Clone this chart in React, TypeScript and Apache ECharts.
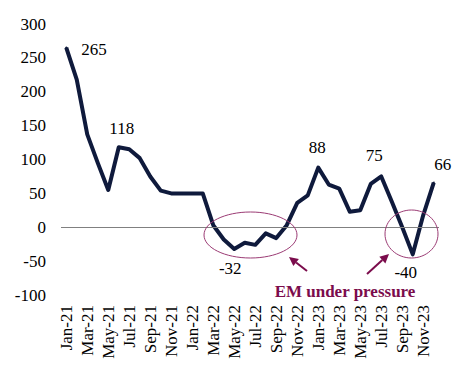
import React, { useEffect, useRef } from "react";
import * as echarts from "echarts";

const categories = [
  "Jan-21","Feb-21","Mar-21","Apr-21","May-21","Jun-21","Jul-21","Aug-21","Sep-21","Oct-21","Nov-21","Dec-21",
  "Jan-22","Feb-22","Mar-22","Apr-22","May-22","Jun-22","Jul-22","Aug-22","Sep-22","Oct-22","Nov-22","Dec-22",
  "Jan-23","Feb-23","Mar-23","Apr-23","May-23","Jun-23","Jul-23","Aug-23","Sep-23","Oct-23","Nov-23","Dec-23",
];

const values = [
  265, 218, 137, 95, 55, 118, 115, 102, 75, 54, 50, 50,
  50, 50, 3, -18, -32, -23, -26, -9, -16, 3, 36, 47,
  88, 63, 57, 23, 25, 64, 75, 38, 0, -40, 18, 66,
];

const labeledMonths = ["Jan-21", "Jun-21", "May-22", "Jan-23", "Jul-23", "Oct-23", "Dec-23"];

const annotationText = "EM under pressure";

const labelStyle: Record<string, any> = {
  "Jan-21": { position: "right", distance: 14, offset: [0, 2] },
  "Jun-21": { position: "top", distance: 9, offset: [3, 0] },
  "May-22": { position: "bottom", distance: 10, offset: [-4, 0] },
  "Jan-23": { position: "top", distance: 11, offset: [-1, 0] },
  "Jul-23": { position: "top", distance: 11, offset: [-7, 0] },
  "Oct-23": { position: "bottom", distance: 9, offset: [-7, 0] },
  "Dec-23": { position: "top", distance: 9, offset: [9, 0] },
};

const FONT = '"Liberation Serif", "Times New Roman", serif';
const PURPLE = "#7b0c4c";
const LINE = "#0f1a3c";

function arrow(tail: [number, number], tip: [number, number]) {
  const dx = tip[0] - tail[0];
  const dy = tip[1] - tail[1];
  const len = Math.sqrt(dx * dx + dy * dy);
  const ux = dx / len, uy = dy / len;
  const hl = 9, hw = 4.5;
  const bx = tip[0] - hl * ux, by = tip[1] - hl * uy;
  const nx = -uy, ny = ux;
  return [
    {
      type: "line",
      shape: { x1: tail[0], y1: tail[1], x2: bx, y2: by },
      style: { stroke: PURPLE, lineWidth: 2 },
    },
    {
      type: "polygon",
      shape: { points: [[tip[0], tip[1]], [bx + hw * nx, by + hw * ny], [bx - hw * nx, by - hw * ny]] },
      style: { fill: PURPLE },
    },
  ];
}

export default function App() {
  const ref = useRef<HTMLDivElement>(null);
  useEffect(() => {
    if (!ref.current) return;
    const chart = echarts.init(ref.current, undefined, { renderer: "svg" });
    const data = values.map((v, i) => {
      const c = categories[i];
      if (labeledMonths.includes(c)) {
        return {
          value: v,
          label: {
            show: true,
            ...labelStyle[c],
            color: "#000",
            fontSize: 17,
            fontFamily: FONT,
          },
        };
      }
      return v;
    });
    chart.setOption({
      animation: false,
      backgroundColor: "#fff",
      textStyle: { fontFamily: FONT },
      grid: { left: 61, right: 22, top: 24, bottom: 80 },
      xAxis: {
        type: "category",
        data: categories,
        boundaryGap: true,
        axisLine: { show: false, onZero: false },
        axisTick: { show: false },
        axisLabel: {
          interval: 1,
          rotate: 90,
          margin: 10,
          color: "#000",
          fontSize: 17,
          fontFamily: FONT,
        },
        splitLine: { show: false },
      },
      yAxis: {
        type: "value",
        min: -100,
        max: 300,
        interval: 50,
        axisLine: { show: false },
        axisTick: { show: false },
        splitLine: { show: false },
        axisLabel: {
          color: "#000",
          fontSize: 17,
          fontFamily: FONT,
          margin: 15,
        },
      },
      series: [
        {
          type: "line",
          data,
          symbol: "circle",
          symbolSize: 2,
          showSymbol: true,
          itemStyle: { color: LINE },
          lineStyle: { color: LINE, width: 4, join: "round" },
          label: { show: false },
          markLine: {
            silent: true,
            symbol: "none",
            label: { show: false },
            lineStyle: { color: "#808080", width: 1, type: "solid" },
            data: [{ yAxis: 0 }],
          },
          z: 3,
        },
      ],
      graphic: [
        {
          type: "ellipse",
          shape: { cx: 250.5, cy: 235, rx: 46.5, ry: 23 },
          style: { fill: "none", stroke: "#9b3b74", lineWidth: 1 },
          z: 10,
        },
        {
          type: "ellipse",
          shape: { cx: 411.5, cy: 234, rx: 26.5, ry: 24 },
          style: { fill: "none", stroke: "#9b3b74", lineWidth: 1 },
          z: 10,
        },
        ...arrow([307, 271], [289, 257]),
        ...arrow([367, 274], [389, 254]),
        {
          type: "text",
          x: 345,
          y: 291,
          style: {
            text: annotationText,
            fill: PURPLE,
            font: `bold 17px ${FONT}`,
            align: "center",
            verticalAlign: "middle",
          },
        },
      ],
    });
    return () => chart.dispose();
  }, []);
  return (
    <div
      ref={ref}
      style={{ position: "fixed", left: 0, top: 0, width: 461, height: 375 }}
    />
  );
}
